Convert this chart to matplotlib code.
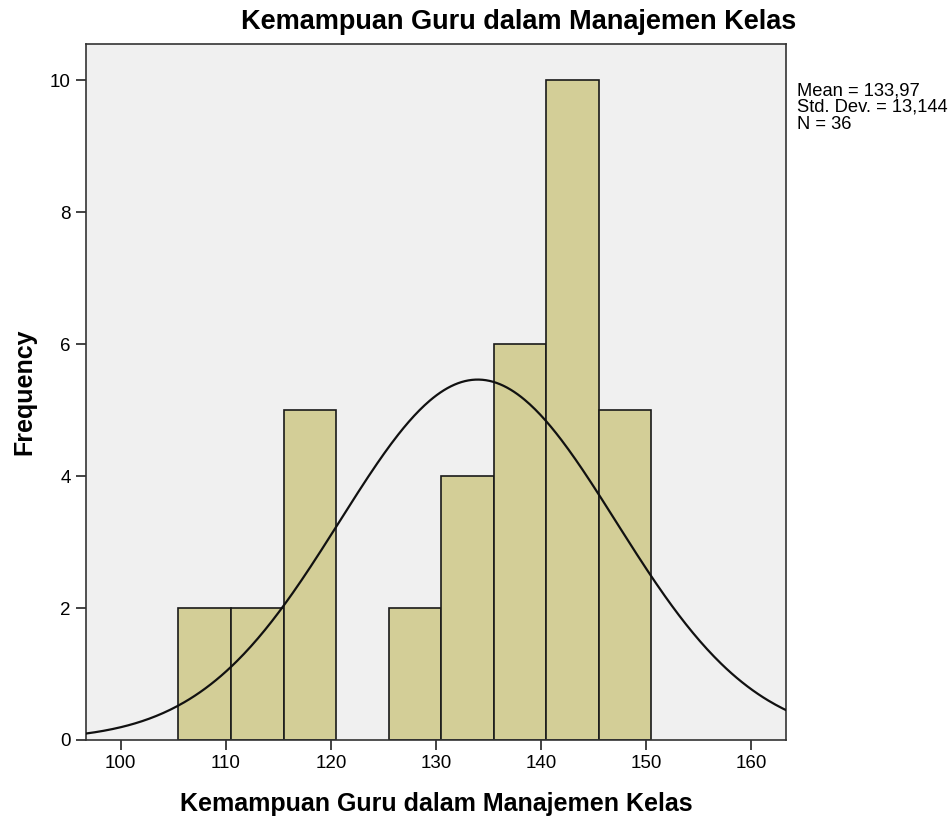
import numpy as np
import matplotlib.pyplot as plt

plt.rcParams['font.family'] = ['Liberation Sans', 'DejaVu Sans']

# Histogram data (bin edges and frequencies)
bin_edges = [105.5, 110.5, 115.5, 120.5, 125.5, 130.5, 135.5, 140.5, 145.5, 150.5]
counts = [2, 2, 5, 0, 2, 4, 6, 10, 5]

mean = 133.97
std = 13.144
n = 36

title = "Kemampuan Guru dalam Manajemen Kelas"

fig = plt.figure(figsize=(9.53, 8.19), dpi=100)
ax = fig.add_axes([86/953, 1 - 740/819, 700/953, 696/819])
ax.set_facecolor('#f0f0f0')

lefts = np.array(bin_edges[:-1])
widths = np.diff(bin_edges)
for l, w, c in zip(lefts, widths, counts):
    if c > 0:
        ax.bar(l, c, width=w, align='edge', color='#d3ce97',
               edgecolor='#1a1a1a', linewidth=1.2, zorder=2)

# Normal curve scaled to frequencies
bw = widths[0]
xs = np.linspace(96.7, 163.3, 400)
ys = n * bw / (std * np.sqrt(2 * np.pi)) * np.exp(-0.5 * ((xs - mean) / std) ** 2)
ax.plot(xs, ys, color='#111111', linewidth=1.6, zorder=3)

ax.set_xlim(96.7, 163.3)
ax.set_ylim(0, 10.55)
ax.set_xticks([100, 110, 120, 130, 140, 150, 160])
ax.set_yticks([0, 2, 4, 6, 8, 10])
ax.tick_params(direction='out', length=7, width=1.2, labelsize=13.5,
               color='#222222', pad=4)
for s in ax.spines.values():
    s.set_color('#333333')
    s.set_linewidth(1.2)

ax.set_xlabel(title, fontsize=18, fontweight='bold', labelpad=14)
ax.set_ylabel("Frequency", fontsize=18, fontweight='bold', labelpad=10)
fig.text(519/953, 1 - 22/819, title, fontsize=19.5, fontweight='bold',
         ha='center', va='center')

fig.text(797/953, 1 - 82/819, "Mean = 133,97\nStd. Dev. = 13,144\nN = 36",
         fontsize=13.2, ha='left', va='top', linespacing=1.0)

fig.savefig('out.png', dpi=100)
